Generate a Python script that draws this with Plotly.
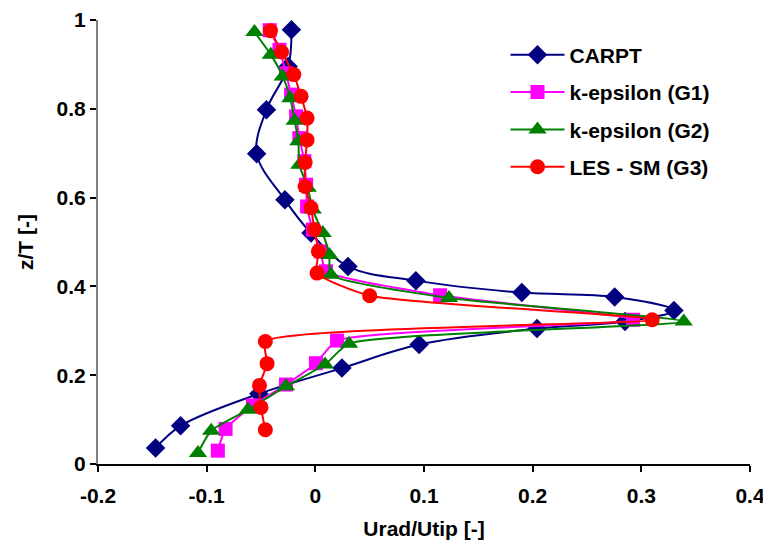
import plotly.graph_objects as go

# ---- data ----
carpt_x = [-0.147, -0.124, -0.052, 0.0245, 0.0955, 0.204, 0.285, 0.330, 0.2755, 0.190, 0.0925, 0.030, -0.004, -0.028, -0.054, -0.045, -0.025, -0.022]
carpt_z = [0.036, 0.086, 0.158, 0.216, 0.269, 0.305, 0.321, 0.346, 0.376, 0.386, 0.413, 0.445, 0.520, 0.595, 0.699, 0.798, 0.895, 0.978]

g1_x = [-0.0897, -0.0826, -0.0575, -0.027, 0.0006, 0.020, 0.2923, 0.1148, 0.0098, 0.005, -0.0024, -0.0076, -0.0085, -0.0101, -0.0147, -0.0177, -0.0223, -0.027, -0.033, -0.042]
g1_z = [0.030, 0.079, 0.132, 0.179, 0.227, 0.278, 0.325, 0.380, 0.434, 0.479, 0.528, 0.580, 0.629, 0.682, 0.734, 0.783, 0.832, 0.880, 0.933, 0.977]

g2_x = [-0.108, -0.0958, -0.062, -0.027, 0.0089, 0.031, 0.339, 0.123, 0.0144, 0.0129, 0.0068, -0.0024, -0.007, -0.0147, -0.0156, -0.019, -0.023, -0.030, -0.041, -0.056]
g2_z = [0.025, 0.075, 0.122, 0.175, 0.224, 0.271, 0.321, 0.374, 0.426, 0.471, 0.520, 0.573, 0.622, 0.674, 0.727, 0.773, 0.824, 0.873, 0.922, 0.973]

les_x = [-0.046, -0.050, -0.0514, -0.0444, -0.046, 0.310, 0.050, 0.0016, 0.0028, -0.0009, -0.0039, -0.0094, -0.0094, -0.0076, -0.0076, -0.0131, -0.0198, -0.031, -0.0413]
les_z = [0.077, 0.1275, 0.177, 0.226, 0.276, 0.325, 0.379, 0.430, 0.479, 0.528, 0.577, 0.625, 0.679, 0.730, 0.779, 0.828, 0.877, 0.928, 0.976]

series_names = ["CARPT", "k-epsilon (G1)", "k-epsilon (G2)", "LES - SM (G3)"]

x_tickvals = [-0.2, -0.1, 0, 0.1, 0.2, 0.3, 0.4]
x_ticktext = ["-0.2", "-0.1", "0", "0.1", "0.2", "0.3", "0.4"]
y_tickvals = [0, 0.2, 0.4, 0.6, 0.8, 1]
y_ticktext = ["0", "0.2", "0.4", "0.6", "0.8", "1"]

FONT = "Liberation Sans, Arial, sans-serif"
FS = 21

styles = [
    dict(color="#000080", symbol="diamond", size=15, smooth=1.0),
    dict(color="#FF00FF", symbol="square", size=14, smooth=0.55),
    dict(color="#008000", symbol="triangle-up", size=16, smooth=0.55),
    dict(color="#FF0000", symbol="circle", size=15, smooth=0.55),
]
data = [(carpt_x, carpt_z), (g1_x, g1_z), (g2_x, g2_z), (les_x, les_z)]

fig = go.Figure()
for i, ((xs, zs), name, st) in enumerate(zip(data, series_names, styles)):
    fig.add_trace(go.Scatter(
        x=xs, y=zs, name=name, mode="lines+markers",
        legendgroup=f"g{i}",
        line=dict(color=st["color"], width=2, shape="spline", smoothing=st["smooth"]),
        marker=dict(color=st["color"], symbol=st["symbol"], size=st["size"],
                    line=dict(width=0)),
    ))

bold = dict(family=FONT, size=FS, color="black", weight="bold")

# page has an 8px body margin, so the figure is sized to fit 771x552 exactly
fig.update_layout(
    width=763, height=544,
    margin=dict(l=90, r=21, t=12, b=88),
    paper_bgcolor="white", plot_bgcolor="white",
    font=bold,
    showlegend=True,
    legend=dict(
        x=0.625, y=0.967, xanchor="left", yanchor="top",
        bgcolor="rgba(0,0,0,0)", traceorder="grouped", tracegroupgap=7,
        itemwidth=54, font=bold,
    ),
)
fig.update_xaxes(
    range=[-0.2, 0.4], tickvals=x_tickvals, ticktext=x_ticktext,
    showgrid=False, zeroline=False, automargin=False,
    showline=True, linecolor="black", linewidth=2,
    ticks="outside", ticklen=6, tickwidth=1.5, tickcolor="black",
    ticklabelstandoff=6,
    tickfont=bold,
    title=dict(text="Urad/Utip [-]", standoff=15, font=bold),
)
fig.update_yaxes(
    range=[0, 1], tickvals=y_tickvals, ticktext=y_ticktext,
    showgrid=False, zeroline=False, automargin=False,
    showline=True, linecolor="#808080", linewidth=2,
    ticks="outside", ticklen=6, tickwidth=1.5, tickcolor="black",
    tickfont=bold,
    title=dict(text="z/T [-]", standoff=17, font=bold),
)

fig.write_html("out.html")
